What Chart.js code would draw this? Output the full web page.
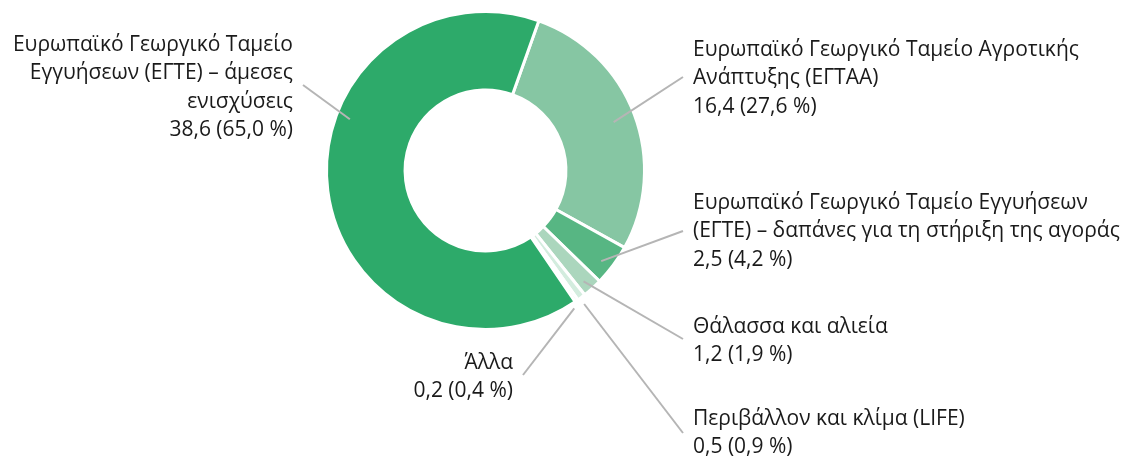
<!DOCTYPE html>
<html>
<head>
<meta charset="utf-8">
<script src="https://cdn.jsdelivr.net/npm/chart.js@4"></script>
<style>
  html, body { margin: 0; padding: 0; background: #ffffff; }
  #wrap { width: 1132px; height: 457px; position: relative; }
</style>
</head>
<body>
<div id="wrap"><canvas id="c" width="1132" height="457"></canvas></div>
<script>
// ---- data ----
const categories = [
  "Ευρωπαϊκό Γεωργικό Ταμείο Αγροτικής Ανάπτυξης (ΕΓΤΑΑ)",
  "Ευρωπαϊκό Γεωργικό Ταμείο Εγγυήσεων (ΕΓΤΕ) – δαπάνες για τη στήριξη της αγοράς",
  "Θάλασσα και αλιεία",
  "Περιβάλλον και κλίμα (LIFE)",
  "Άλλα",
  "Ευρωπαϊκό Γεωργικό Ταμείο Εγγυήσεων (ΕΓΤΕ) – άμεσες ενισχύσεις"
];
const values = [16.4, 2.5, 1.2, 0.5, 0.2, 38.6];
const valueLabels = ["16,4", "2,5", "1,2", "0,5", "0,2", "38,6"];
const percentLabels = ["27,6 %", "4,2 %", "1,9 %", "0,9 %", "0,4 %", "65,0 %"];
const labelLines = [
  ["Ευρωπαϊκό Γεωργικό Ταμείο Αγροτικής", "Ανάπτυξης (ΕΓΤΑΑ)"],
  ["Ευρωπαϊκό Γεωργικό Ταμείο Εγγυήσεων", "(ΕΓΤΕ) – δαπάνες για τη στήριξη της αγοράς"],
  ["Θάλασσα και αλιεία"],
  ["Περιβάλλον και κλίμα (LIFE)"],
  ["Άλλα"],
  ["Ευρωπαϊκό Γεωργικό Ταμείο", "Εγγυήσεων (ΕΓΤΕ) – άμεσες", "ενισχύσεις"]
];
const colors = ["#86c6a3", "#57b683", "#abd6bd", "#d3ecde", "#e6f4ec", "#2daa6a"];

// ---- label layout (annotation placement) ----
const labelLayout = [
  { anchorFrac: 0.5,  anchorR: 137, tx: 693, ty: 50,  align: "left",  ex: 683, ey: 77 },
  { anchorFrac: 0.6,  anchorR: 147, tx: 693, ty: 203, align: "left",  ex: 683, ey: 231 },
  { anchorFrac: 0.6,  anchorR: 148, tx: 693, ty: 327, align: "left",  ex: 683, ey: 339 },
  { anchorFrac: 0.7,  anchorR: 166, tx: 693, ty: 419, align: "left",  ex: 683, ey: 433 },
  { anchorFrac: 2.3,  anchorR: 164, tx: 513, ty: 363, align: "right", ex: 523, ey: 375 },
  { anchorFrac: 0.62, anchorR: 145, tx: 293, ty: 45,  align: "right", ex: 303, ey: 85 }
];
const LINE_H = 28.4;
const FONT = '21px "Open Sans", "Noto Sans", sans-serif';

const labelPlugin = {
  id: "outerLabels",
  afterDatasetsDraw(chart) {
    const ctx = chart.ctx;
    const meta = chart.getDatasetMeta(0);
    ctx.save();
    meta.data.forEach((arc, i) => {
      const p = arc.getProps(["x", "y", "startAngle", "endAngle"], true);
      const L = labelLayout[i];
      const a = p.startAngle + (p.endAngle - p.startAngle) * L.anchorFrac;
      const sx = p.x + Math.cos(a) * L.anchorR;
      const sy = p.y + Math.sin(a) * L.anchorR;
      ctx.strokeStyle = "#b5b5b5";
      ctx.lineWidth = 2;
      ctx.beginPath();
      ctx.moveTo(sx, sy);
      ctx.lineTo(L.ex, L.ey);
      ctx.stroke();
      const lines = labelLines[i].concat([valueLabels[i] + " (" + percentLabels[i] + ")"]);
      ctx.fillStyle = "#1a1a1a";
      ctx.font = FONT;
      ctx.textAlign = L.align;
      ctx.textBaseline = "middle";
      lines.forEach((t, k) => ctx.fillText(t, L.tx, L.ty + k * LINE_H));
    });
    ctx.restore();
  }
};

new Chart(document.getElementById("c"), {
  type: "doughnut",
  data: {
    labels: categories,
    datasets: [{
      data: values,
      backgroundColor: colors,
      borderColor: "#ffffff",
      borderWidth: 3,
      hoverBorderWidth: 3,
      hoverOffset: 0
    }]
  },
  options: {
    responsive: false,
    animation: false,
    devicePixelRatio: 1,
    rotation: 19.6,
    cutout: "50.6%",
    layout: { padding: { top: 10, bottom: 126, left: 325, right: 486 } },
    plugins: {
      legend: { display: false },
      tooltip: { enabled: false }
    }
  },
  plugins: [labelPlugin]
});
</script>
</body>
</html>
